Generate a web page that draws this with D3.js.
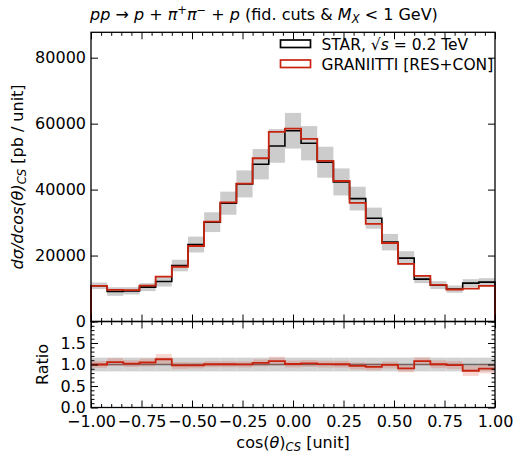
<!DOCTYPE html>
<html>
<head>
<meta charset="utf-8">
<script src="https://cdn.jsdelivr.net/npm/d3@7"></script>
<style>
  body { margin: 0; background: #fff; }
  text { font-family: "DejaVu Sans", sans-serif; fill: #000; }
  .tick text { font-size: 16px; }
  .tick line { stroke: #000; stroke-width: 1; }
</style>
</head>
<body>
<svg id="chart" width="515" height="455"></svg>
<script>
// bin edges of cos(theta)_CS
const binEdges = [-1.00, -0.92, -0.84, -0.76, -0.68, -0.60, -0.52, -0.44, -0.36, -0.28, -0.20,
  -0.12, -0.04, 0.04, 0.12, 0.20, 0.28, 0.36, 0.44, 0.52, 0.60, 0.68, 0.76, 0.84, 0.92, 1.00];

// STAR data [pb / unit] and its uncertainty
const star = [10820, 9090, 9300, 10420, 12120, 16970, 23340, 30120, 35880, 41730, 47700, 53240,
  57850, 54060, 48300, 42330, 37270, 31330, 24060, 19210, 12840, 11030, 9820, 11640, 11940];
const starErr = [1000, 1300, 1100, 1200, 1500, 1750, 2400, 3000, 3500, 4100, 4600, 5100,
  5400, 5200, 4700, 4100, 3600, 3200, 2500, 2100, 1200, 1200, 1100, 1200, 1200];

// GRANIITTI [RES+CON]
const graniitti = [10820, 9600, 9500, 10900, 13600, 16600, 22900, 30300, 36100, 41800, 49500, 57500,
  58500, 55400, 48700, 42600, 36000, 29600, 23800, 17500, 13850, 11100, 9700, 9950, 10800];

// half heights of the bands in the ratio panel
const starRatioErr = [0.16, 0.16, 0.16, 0.16, 0.16, 0.16, 0.16, 0.16, 0.16, 0.16, 0.16, 0.16,
  0.16, 0.16, 0.16, 0.16, 0.16, 0.16, 0.16, 0.16, 0.16, 0.16, 0.16, 0.16, 0.16];
const graniittiRatioErr = [0.08, 0.09, 0.08, 0.09, 0.12, 0.08, 0.07, 0.07, 0.07, 0.07, 0.08, 0.1,
  0.08, 0.08, 0.08, 0.08, 0.08, 0.08, 0.08, 0.09, 0.09, 0.09, 0.09, 0.12, 0.11];

const xMajor = [-1.00, -0.75, -0.50, -0.25, 0.00, 0.25, 0.50, 0.75, 1.00];
const yMajor = [0, 20000, 40000, 60000, 80000];
const ratioMajor = [0.0, 0.5, 1.0, 1.5];

const bins = star.map((v, i) => ({
  x0: binEdges[i], x1: binEdges[i + 1],
  star: v, err: starErr[i], grn: graniitti[i],
  ratio: graniitti[i] / v, sErr: starRatioErr[i], gErr: graniittiRatioErr[i]
}));

const svg = d3.select("#chart");
const left = 91, right = 495, mainTop = 32.3, mainBottom = 321.5, ratioBottom = 407.5;
const red = "#c8230f";

const x = d3.scaleLinear().domain([-1, 1]).range([left, right]);
const y = d3.scaleLinear().domain([0, 87700]).range([mainBottom, mainTop]);
const yr = d3.scaleLinear().domain([0, 2]).range([ratioBottom, mainBottom]);

const xMinor = d3.range(-1, 1.0001, 0.05).map(v => +v.toFixed(2)).filter(v => !xMajor.includes(v));
const ratioMinor = d3.range(0, 2.0001, 0.1).map(v => +v.toFixed(1)).filter(v => !ratioMajor.includes(v));

// histogram step path that drops to zero at both ends
function stepPath(yScale, key, toZero) {
  const p = d3.path();
  bins.forEach((b, i) => {
    const yy = yScale(b[key]);
    if (i === 0) {
      if (toZero) { p.moveTo(x(b.x0), yScale(0)); p.lineTo(x(b.x0), yy); }
      else p.moveTo(x(b.x0), yy);
    } else p.lineTo(x(b.x0), yy);
    p.lineTo(x(b.x1), yy);
  });
  if (toZero) p.lineTo(x(bins[bins.length - 1].x1), yScale(0));
  return p.toString();
}

// ---------- main panel ----------
const main = svg.append("g");
main.append("g").selectAll("rect")
  .data(bins).join("rect")
  .attr("x", d => x(d.x0)).attr("width", d => x(d.x1) - x(d.x0))
  .attr("y", d => y(d.star + d.err)).attr("height", d => y(d.star - d.err) - y(d.star + d.err))
  .attr("fill", "#cccccc");

main.append("path").attr("d", stepPath(y, "star", true))
  .attr("fill", "none").attr("stroke", "#000").attr("stroke-width", 1.6);
main.append("path").attr("d", stepPath(y, "grn", true))
  .attr("fill", "none").attr("stroke", red).attr("stroke-width", 1.8);

// ---------- ratio panel ----------
const ratio = svg.append("g");
ratio.append("g").selectAll("rect")
  .data(bins).join("rect")
  .attr("x", d => x(d.x0)).attr("width", d => x(d.x1) - x(d.x0))
  .attr("y", d => yr(1 + d.sErr)).attr("height", d => yr(1 - d.sErr) - yr(1 + d.sErr))
  .attr("fill", "#d2d2d2");
ratio.append("line")
  .attr("x1", x(-1)).attr("x2", x(1)).attr("y1", yr(1)).attr("y2", yr(1))
  .attr("stroke", "#666").attr("stroke-width", 1.5);
ratio.append("g").selectAll("rect")
  .data(bins).join("rect")
  .attr("x", d => x(d.x0)).attr("width", d => x(d.x1) - x(d.x0))
  .attr("y", d => yr(d.ratio + d.gErr)).attr("height", d => yr(d.ratio - d.gErr) - yr(d.ratio + d.gErr))
  .attr("fill", "rgb(225,70,50)").attr("fill-opacity", 0.22);
ratio.append("path").attr("d", stepPath(yr, "ratio", false))
  .attr("fill", "none").attr("stroke", red).attr("stroke-width", 1.8);

// ---------- axes ----------
function addAxis(axis, tx, ty) {
  const g = svg.append("g").attr("transform", "translate(" + tx + "," + ty + ")").call(axis);
  g.select(".domain").remove();
  return g;
}
const noLabel = () => "";

// main panel x (top and bottom, no labels)
addAxis(d3.axisBottom(x).tickValues(xMajor).tickSizeInner(-7).tickSizeOuter(0).tickFormat(noLabel), 0, mainBottom);
addAxis(d3.axisBottom(x).tickValues(xMinor).tickSizeInner(-3.5).tickSizeOuter(0).tickFormat(noLabel), 0, mainBottom);
addAxis(d3.axisTop(x).tickValues(xMajor).tickSizeInner(-7).tickSizeOuter(0).tickFormat(noLabel), 0, mainTop);
addAxis(d3.axisTop(x).tickValues(xMinor).tickSizeInner(-3.5).tickSizeOuter(0).tickFormat(noLabel), 0, mainTop);
// main panel y
addAxis(d3.axisLeft(y).tickValues(yMajor).tickSizeInner(-7).tickSizeOuter(0).tickPadding(5).tickFormat(d3.format("d")), left, 0);
addAxis(d3.axisRight(y).tickValues(yMajor).tickSizeInner(-7).tickSizeOuter(0).tickFormat(noLabel), right, 0);

// ratio panel x
addAxis(d3.axisBottom(x).tickValues(xMajor).tickSizeInner(-7).tickSizeOuter(0).tickPadding(8).tickFormat(d3.format(".2f")), 0, ratioBottom);
addAxis(d3.axisBottom(x).tickValues(xMinor).tickSizeInner(-3.5).tickSizeOuter(0).tickFormat(noLabel), 0, ratioBottom);
addAxis(d3.axisTop(x).tickValues(xMajor).tickSizeInner(-7).tickSizeOuter(0).tickFormat(noLabel), 0, mainBottom);
addAxis(d3.axisTop(x).tickValues(xMinor).tickSizeInner(-3.5).tickSizeOuter(0).tickFormat(noLabel), 0, mainBottom);
// ratio panel y
addAxis(d3.axisLeft(yr).tickValues(ratioMajor).tickSizeInner(-7).tickSizeOuter(0).tickPadding(5).tickFormat(d3.format(".1f")), left, 0);
addAxis(d3.axisLeft(yr).tickValues(ratioMinor).tickSizeInner(-3.5).tickSizeOuter(0).tickFormat(noLabel), left, 0);
addAxis(d3.axisRight(yr).tickValues(ratioMajor).tickSizeInner(-7).tickSizeOuter(0).tickFormat(noLabel), right, 0);
addAxis(d3.axisRight(yr).tickValues(ratioMinor).tickSizeInner(-3.5).tickSizeOuter(0).tickFormat(noLabel), right, 0);

// frames
svg.append("rect").attr("x", left).attr("y", mainTop).attr("width", right - left).attr("height", mainBottom - mainTop)
  .attr("fill", "none").attr("stroke", "#000").attr("stroke-width", 1.3);
svg.append("rect").attr("x", left).attr("y", mainBottom).attr("width", right - left).attr("height", ratioBottom - mainBottom)
  .attr("fill", "none").attr("stroke", "#000").attr("stroke-width", 1.3);

// ---------- texts ----------
const title = svg.append("text").attr("x", left - 1).attr("y", 20).style("font-size", "16px");
title.append("tspan").attr("font-style", "italic").text("pp");
title.append("tspan").text(" → ");
title.append("tspan").attr("font-style", "italic").text("p");
title.append("tspan").text(" + ");
title.append("tspan").attr("font-style", "italic").text("π");
title.append("tspan").attr("dy", -6).style("font-size", "11.5px").text("+");
title.append("tspan").attr("dy", 6).attr("font-style", "italic").text("π");
title.append("tspan").attr("dy", -6).style("font-size", "11.5px").text("−");
title.append("tspan").attr("dy", 6).text(" + ");
title.append("tspan").attr("font-style", "italic").text("p");
title.append("tspan").text(" (fid. cuts & ");
title.append("tspan").attr("font-style", "italic").text("M");
title.append("tspan").attr("dy", 3).attr("font-style", "italic").style("font-size", "11.5px").text("X");
title.append("tspan").attr("dy", -3).text(" < 1 GeV)");

const yLabel = svg.append("text").style("font-size", "16px").attr("text-anchor", "middle")
  .attr("transform", "translate(22.5," + ((mainTop + mainBottom) / 2) + ") rotate(-90)");
yLabel.append("tspan").attr("font-style", "italic").text("dσ/dcos(θ)");
yLabel.append("tspan").attr("dy", 3).attr("font-style", "italic").style("font-size", "11.5px").text("CS");
yLabel.append("tspan").attr("dy", -3).text("  [pb / unit]");

svg.append("text").style("font-size", "16px").attr("text-anchor", "middle")
  .attr("transform", "translate(47.5," + ((mainBottom + ratioBottom) / 2) + ") rotate(-90)")
  .text("Ratio");

const xLabel = svg.append("text").style("font-size", "16px").attr("text-anchor", "middle")
  .attr("x", (left + right) / 2).attr("y", 448);
xLabel.append("tspan").text("cos(");
xLabel.append("tspan").attr("font-style", "italic").text("θ");
xLabel.append("tspan").text(")");
xLabel.append("tspan").attr("dy", 3).attr("font-style", "italic").style("font-size", "11.5px").text("CS");
xLabel.append("tspan").attr("dy", -3).text(" [unit]");

// ---------- legend ----------
const legendItems = [
  {color: "#000", parts: [["STAR, ", false], ["√", false], ["s", true], [" = 0.2 TeV", false]]},
  {color: red, parts: [["GRANIITTI [RES+CON]", false]]}
];
const legend = svg.append("g").attr("transform", "translate(280,40)");
legendItems.forEach((item, i) => {
  const row = legend.append("g").attr("transform", "translate(0," + i * 20 + ")");
  row.append("rect").attr("x", 0.5).attr("y", 0).attr("width", 30).attr("height", 7.5)
    .attr("fill", "none").attr("stroke", item.color).attr("stroke-width", 1.7);
  const t = row.append("text").attr("x", 41.5).attr("y", 9.5).style("font-size", "15.5px");
  item.parts.forEach(p => t.append("tspan").attr("font-style", p[1] ? "italic" : null).text(p[0]));
});
</script>
</body>
</html>
